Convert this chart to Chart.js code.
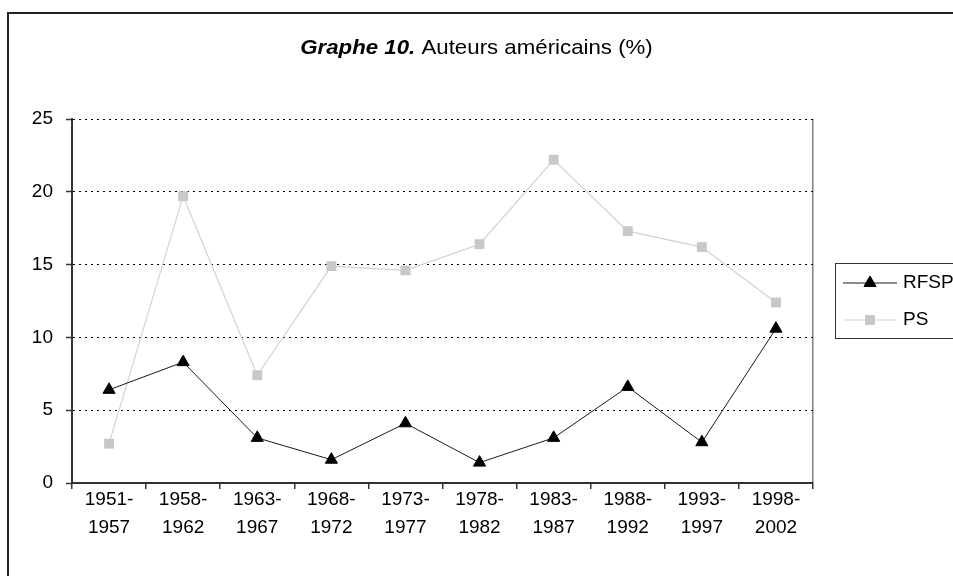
<!DOCTYPE html>
<html>
<head>
<meta charset="utf-8">
<script src="https://cdn.jsdelivr.net/npm/chart.js@4"></script>
<style>
  body { margin: 0; background: #fff; }
</style>
</head>
<body>
<canvas id="grafico" width="953" height="576"></canvas>
<script>
// donnees
var periodes = [["1951-", "1957"], ["1958-", "1962"], ["1963-", "1967"], ["1968-", "1972"], ["1973-", "1977"],
                ["1978-", "1982"], ["1983-", "1987"], ["1988-", "1992"], ["1993-", "1997"], ["1998-", "2002"]];
var rfsp = [6.4, 8.3, 3.1, 1.6, 4.1, 1.4, 3.1, 6.6, 2.8, 10.6];
var ps = [2.7, 19.7, 7.4, 14.9, 14.6, 16.4, 22.2, 17.3, 16.2, 12.4];
var yMin = 0;
var yMax = 25;
var yPas = 5;

var police = "'Liberation Sans', Arial, sans-serif";

// cadre + fond
var cadre = {
  id: "cadre",
  beforeDraw: function (chart) {
    var ctx = chart.ctx;
    ctx.save();
    ctx.fillStyle = "#fff";
    ctx.fillRect(0, 0, chart.width, chart.height);
    ctx.strokeStyle = "#222";
    ctx.lineWidth = 2;
    ctx.beginPath();
    ctx.moveTo(8, chart.height);
    ctx.lineTo(8, 13);
    ctx.lineTo(chart.width, 13);
    ctx.stroke();
    ctx.restore();
  }
};

// titre (gras italique + normal)
var titre = {
  id: "titre",
  afterDraw: function (chart) {
    var ctx = chart.ctx;
    var t1 = "Graphe 10.";
    var t2 = " Auteurs américains (%)";
    ctx.save();
    ctx.fillStyle = "#000";
    ctx.textBaseline = "middle";
    ctx.font = "italic bold 21px " + police;
    var w1 = ctx.measureText(t1).width;
    ctx.font = "21px " + police;
    var w2 = ctx.measureText(t2).width;
    var sx = 1.06;
    var x0 = chart.width / 2 - (w1 + w2) * sx / 2;
    ctx.translate(x0, 48);
    ctx.scale(sx, 1);
    ctx.font = "italic bold 21px " + police;
    ctx.fillText(t1, 0, 0);
    ctx.font = "21px " + police;
    ctx.fillText(t2, w1, 0);
    ctx.restore();
  }
};

// legende a droite
var legende = {
  id: "legende",
  afterDraw: function (chart) {
    var ctx = chart.ctx;
    ctx.save();
    ctx.strokeStyle = "#333";
    ctx.lineWidth = 1;
    ctx.strokeRect(835.5, 263.5, 200, 75);
    var ys = [283, 320];
    chart.data.datasets.forEach(function (ds, i) {
      var y = ys[i];
      ctx.strokeStyle = ds.borderColor;
      ctx.lineWidth = ds.borderWidth;
      ctx.beginPath();
      ctx.moveTo(843, y);
      ctx.lineTo(897, y);
      ctx.stroke();
      ctx.fillStyle = ds.pointBackgroundColor;
      ctx.strokeStyle = ds.pointBorderColor;
      Chart.helpers.drawPoint(ctx, {
        pointStyle: ds.pointStyle,
        radius: ds.pointRadius,
        rotation: 0,
        borderWidth: ds.pointBorderWidth
      }, 870, y);
      ctx.fillStyle = "#000";
      ctx.font = "19px " + police;
      ctx.textBaseline = "middle";
      ctx.fillText(ds.label, 903, y);
    });
    ctx.restore();
  }
};

var ctx = document.getElementById("grafico").getContext("2d");
var myChart = new Chart(ctx, {
  type: "line",
  data: {
    labels: periodes,
    datasets: [
      {
        label: "RFSP",
        data: rfsp,
        borderColor: "#1a1a1a",
        borderWidth: 1,
        pointStyle: "triangle",
        pointRadius: 7,
        pointBackgroundColor: "#000",
        pointBorderColor: "#000",
        pointBorderWidth: 1,
        tension: 0
      },
      {
        label: "PS",
        data: ps,
        borderColor: "#d2d2d2",
        borderWidth: 1.2,
        pointStyle: "rect",
        pointRadius: 7,
        pointBackgroundColor: "#c8c8c8",
        pointBorderColor: "#c8c8c8",
        pointBorderWidth: 0,
        tension: 0
      }
    ]
  },
  options: {
    responsive: false,
    animation: false,
    layout: { padding: { left: 0, top: 119, right: 140, bottom: 0 } },
    plugins: {
      legend: { display: false },
      title: { display: false },
      tooltip: { enabled: false }
    },
    scales: {
      x: {
        type: "category",
        offset: true,
        afterFit: function (scale) { scale.height = 93; },
        grid: {
          offset: true,
          color: function (c) { return c.type === "tick" ? "rgba(0,0,0,0)" : "#808080"; },
          lineWidth: 1.5,
          tickLength: 6,
          tickColor: "#333",
          tickWidth: 1.5
        },
        border: { color: "#333", width: 2 },
        ticks: {
          color: "#000",
          font: { family: police, size: 19, lineHeight: 28 / 19 },
          padding: -3,
          maxRotation: 0,
          autoSkip: false
        }
      },
      y: {
        min: yMin,
        max: yMax,
        afterFit: function (scale) { scale.width = 72; },
        grid: {
          color: "#000",
          lineWidth: 1,
          tickLength: 6,
          tickColor: "#333",
          tickWidth: 1.5
        },
        border: { color: "#333", width: 2, dash: [2, 4] },
        ticks: {
          stepSize: yPas,
          color: "#000",
          font: { family: police, size: 19 },
          padding: 13
        }
      }
    }
  },
  plugins: [cadre, titre, legende]
});
</script>
</body>
</html>
